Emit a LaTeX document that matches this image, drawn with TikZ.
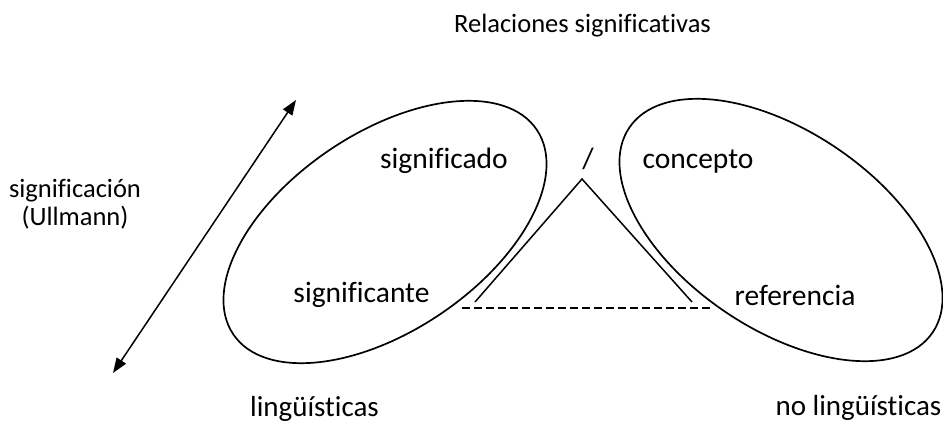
\documentclass[tikz,border=0pt]{standalone}
\usepackage{fontspec}
\setmainfont{Carlito}[Ligatures={NoCommon}]
\usetikzlibrary{arrows.meta}
\tikzset{
  outer/.style={font=\fontsize{26.5}{28}\selectfont, inner sep=0pt, anchor=base},
  bottomlab/.style={font=\fontsize{29}{34}\selectfont, inner sep=0pt, anchor=base},
  inner/.style={font=\fontsize{29.5}{35}\selectfont, inner sep=0pt, anchor=base},
  curve/.style={line width=1.7pt},
  stroke/.style={line width=1.5pt},
}
\begin{document}
\begin{tikzpicture}[x=1pt,y=1pt]
\useasboundingbox (0,0) rectangle (943,-423);
% titles and outer labels
\node[outer] (title) at (582.5,-32) {Relaciones significativas};
\node[outer, align=center] (signif) at (75,-225) {significación\\(Ullmann)};
\node[bottomlab] (ling) at (314.5,-416) {lingüísticas};
\node[bottomlab] (noling) at (858.5,-415) {no lingüísticas};
% ellipses
\coordinate (cl) at (385,-232);
\coordinate (cr) at (781,-230);
\draw[curve, rotate around={34:(cl)}] (cl) ellipse [x radius=183, y radius=99];
\draw[curve, rotate around={-34:(cr)}] (cr) ellipse [x radius=183, y radius=99];
% inner labels
\node[inner] (sdo) at (444,-168) {significado};
\node[inner] (ste) at (361.5,-302) {significante};
\node[inner] (con) at (698,-168) {concepto};
\node[inner] (ref) at (795,-305) {referencia};
\node[inner] (slash) at (588,-168) {/};
% triangle
\coordinate (apex) at (582,-179);
\coordinate (bl) at (475,-302);
\coordinate (br) at (692,-302);
\draw[stroke] (bl) -- (apex) -- (br);
\coordinate (dl) at (462,-308);
\coordinate (dr) at (713,-308);
\draw[stroke, dash pattern=on 8pt off 4pt] (dl) -- (dr);
% double arrow
\coordinate (atop) at (296,-100);
\coordinate (abot) at (113,-373);
\draw[stroke, {Triangle[length=15pt,width=11pt]}-{Triangle[length=15pt,width=11pt]}] (abot) -- (atop);
\end{tikzpicture}
\end{document}
